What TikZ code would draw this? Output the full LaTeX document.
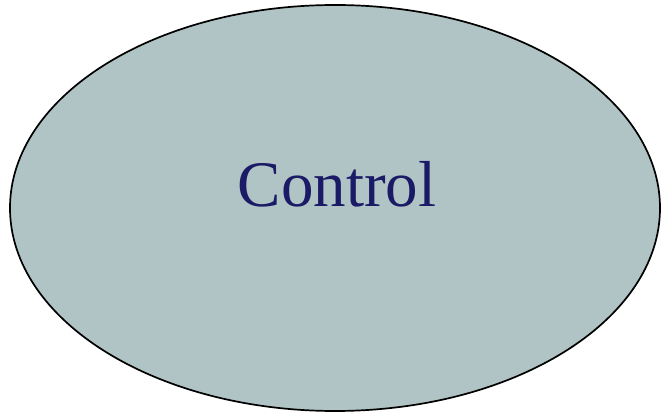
\documentclass[tikz,border=0pt]{standalone}
\usepackage{fontspec}
\setmainfont{Liberation Serif}
\usetikzlibrary{shapes.geometric}
\definecolor{ctrlfill}{HTML}{B0C4C6}
\definecolor{ctrltext}{HTML}{1A1A66}

\begin{document}
\begin{tikzpicture}[
  x=1pt,y=-1pt,
  ctrlshape/.style={
    ellipse,draw,fill=ctrlfill,line width=1.7pt,
    minimum width=650pt,minimum height=406pt,inner sep=0pt
  },
  ctrllabel/.style={
    text=ctrltext,font=\fontsize{65}{78}\selectfont,anchor=base,inner sep=0pt
  }
]
\useasboundingbox (0,0) rectangle (661,414);

% ---- the one ellipse and its label ----
\node[ctrlshape] (ctrl) at (335,208) {};
\node[ctrllabel] (ctrltxt) at (337,207) {Control};

\end{tikzpicture}
\end{document}
